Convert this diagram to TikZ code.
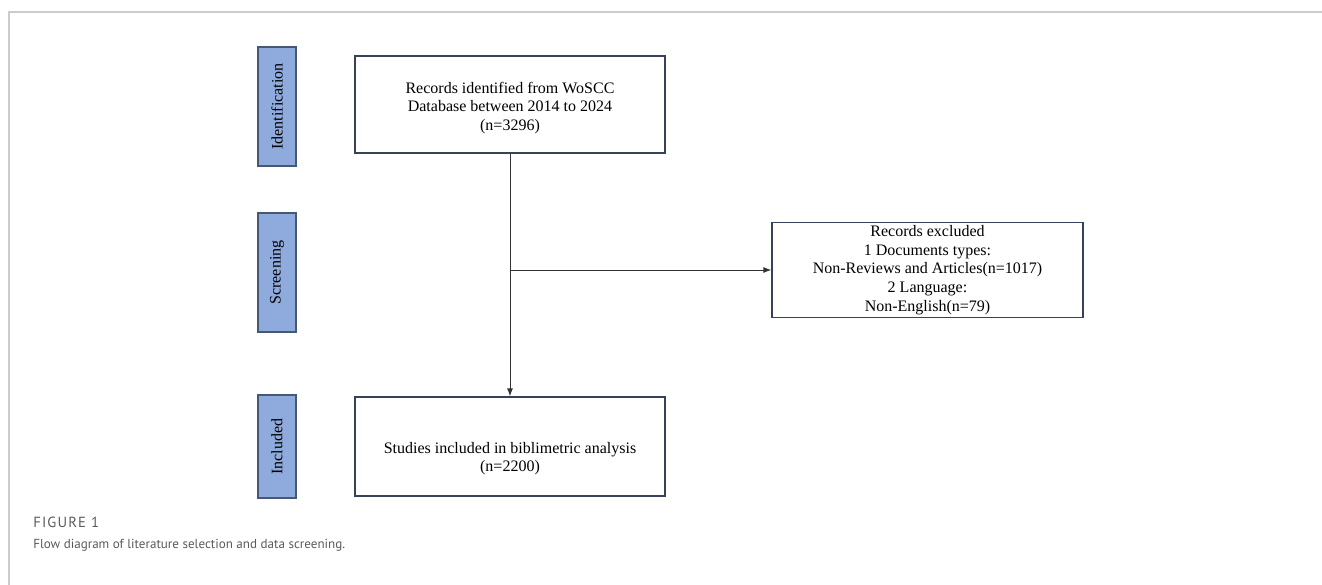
\documentclass[tikz,border=0pt]{standalone}
\usepackage{fontspec}
\setmainfont{Liberation Serif}
\newfontfamily\capfont{PT Sans}
\newfontfamily\figfont[LetterSpace=8]{PT Sans}
\usetikzlibrary{arrows.meta}
\definecolor{stagefill}{RGB}{143,170,220}
\definecolor{stageline}{RGB}{72,88,115}
\definecolor{boxline}{RGB}{55,65,90}
\definecolor{capgray}{RGB}{90,90,90}
\definecolor{framegray}{RGB}{204,204,204}

\begin{document}
\begin{tikzpicture}[x=0.75pt,y=-0.75pt,>={Latex[length=6pt,width=4.5pt]}]
  \tikzstyle{stage}=[draw=stageline,fill=stagefill,line width=0.9pt,rotate=90,minimum height=28.5pt,inner sep=0pt,font=\fontsize{12}{14}\selectfont]
  \tikzstyle{flowbox}=[draw=boxline,line width=0.9pt,minimum width=232.5pt,inner sep=0pt]
  \tikzstyle{flowtext}=[align=center,font=\fontsize{12}{14}\selectfont]
  \tikzstyle{captext}=[anchor=west,inner sep=0pt,text=capgray]
  \useasboundingbox (0,0) rectangle (1322,585);
  \draw[framegray,line width=1pt] (1322,12) -| (9,585);

  \node[stage,minimum width=89.25pt] (S1) at (277,106.5) {Identification};
  \node[stage,minimum width=89.25pt] (S2) at (277,272.5) {Screening};
  \node[stage,minimum width=77.25pt] (S3) at (277,446.5) {Included};

  \node[flowbox,minimum height=72.75pt] (B1) at (510,104.5) {};
  \node[flowtext] (T1) at (510,108) {Records identified from WoSCC\\Database between 2014 to 2024\\(n=3296)};
  \node[flowbox,flowtext,minimum width=233.25pt,minimum height=71.25pt] (B2) at (927.5,270) {Records excluded\\1 Documents types:\\Non-Reviews and Articles(n=1017)\\2 Language:\\Non-English(n=79)};
  \node[flowbox,minimum height=74.25pt] (B3) at (510,446.5) {};
  \node[flowtext] (T3) at (510,458.5) {Studies included in biblimetric analysis\\(n=2200)};

  \coordinate (split) at (B1.south |- B2.west);
  \draw[->,black!80,line width=0.75pt] (B1) -- (B3);
  \draw[->,black!80,line width=0.75pt] (split) -- (B2);

  \node[captext,font=\figfont\fontsize{11}{12}\selectfont] (fig) at (33,522) {FIGURE 1};
  \node[captext,font=\capfont\fontsize{9.8}{12}\selectfont] (cap) at (33,545) {Flow diagram of literature selection and data screening.};
\end{tikzpicture}
\end{document}
